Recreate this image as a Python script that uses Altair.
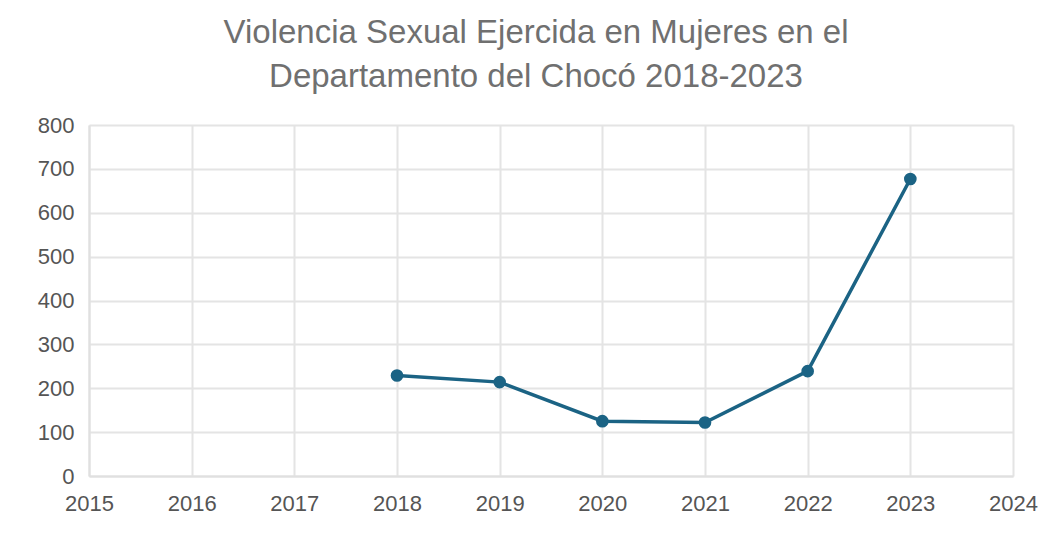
import altair as alt
import pandas as pd

years = [2018, 2019, 2020, 2021, 2022, 2023]
casos = [229, 214, 125, 122, 239, 677]
x_ticks = list(range(2015, 2025))
y_ticks = list(range(0, 801, 100))

df = pd.DataFrame({"Año": years, "Casos": casos})

color = "#1b6384"

base = alt.Chart(df).encode(
    x=alt.X("Año:Q",
            scale=alt.Scale(domain=[2015, 2024], nice=False, zero=False),
            axis=alt.Axis(values=x_ticks, format="d", title=None,
                          labelFontSize=22, labelColor="#555555",
                          labelPadding=17, tickSize=0, labelFlush=False,
                          labelOverlap=False,
                          gridColor="#e4e4e4", gridWidth=2,
                          domainColor="#e0e0e0", domainWidth=2)),
    y=alt.Y("Casos:Q",
            scale=alt.Scale(domain=[0, 800], nice=False),
            axis=alt.Axis(values=y_ticks, title=None,
                          labelFontSize=22, labelColor="#555555",
                          labelPadding=15, tickSize=0, labelFlush=False,
                          gridColor="#e4e4e4", gridWidth=2,
                          domainColor="#e0e0e0", domainWidth=2)),
)

line = base.mark_line(color=color, strokeWidth=3.5)
pts = base.mark_point(color=color, filled=True, size=160, opacity=1)

chart = (line + pts).properties(
    width=924,
    height=351,
    title=alt.Title(
        ["Violencia Sexual Ejercida en Mujeres en el", "Departamento del Chocó 2018-2023"],
        fontSize=33, fontWeight="normal", color="#707070",
        font="Liberation Sans", anchor="middle", dx=-15, offset=20,
        lineHeight=44,
    ),
    autosize=alt.AutoSizeParams(type="none"),
    padding={"left": 81, "top": 117, "right": 30, "bottom": 50},
).configure(font="Liberation Sans").configure_view(stroke=None)

chart.save("out.html", embed_options={"renderer": "svg", "actions": False})
